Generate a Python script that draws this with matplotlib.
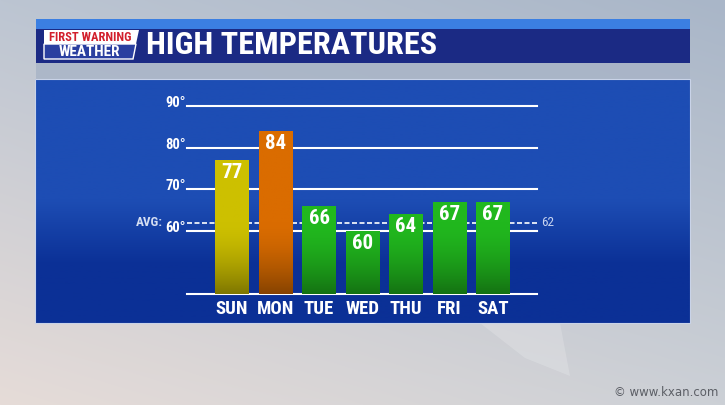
import numpy as np
import matplotlib
matplotlib.use("Agg")
import matplotlib.pyplot as plt
from matplotlib import font_manager
from matplotlib.colors import to_rgb
from matplotlib.patches import Rectangle, Polygon

# --- data
days = ["SUN", "MON", "TUE", "WED", "THU", "FRI", "SAT"]
highs = [77, 84, 66, 60, 64, 67, 67]
avg_high = 62
grid_temps = [90, 80, 70, 60]
base_temp = 45
bar_colors = ["#cdc000", "#da6c00", "#21b81e", "#21b81e", "#21b81e", "#21b81e", "#21b81e"]
title = "HIGH TEMPERATURES"

# --- pick a condensed bold font if one exists
names = {f.name for f in font_manager.fontManager.ttflist}
FONT = "DejaVu Sans"
for cand in ["Liberation Sans Narrow", "Roboto Condensed", "DejaVu Sans"]:
    if cand in names:
        FONT = cand
        break
plt.rcParams["font.family"] = [FONT, "DejaVu Sans"]

W, H = 725, 405
fig = plt.figure(figsize=(W / 100, H / 100), dpi=100)

# background axes in pixel coordinates
bg = fig.add_axes([0, 0, 1, 1])
bg.set_xlim(0, W)
bg.set_ylim(H, 0)
bg.axis("off")

# sky backdrop: bilinear blend of corner colours
tl, tr = np.array(to_rgb("#bcc5d2")), np.array(to_rgb("#a9b6c8"))
bl, br = np.array(to_rgb("#e6dcd8")), np.array(to_rgb("#ccd0d6"))
yy, xx = np.mgrid[0:1:H * 1j, 0:1:W * 1j]
sky = ((1 - yy)[..., None] * ((1 - xx)[..., None] * tl + xx[..., None] * tr)
       + yy[..., None] * ((1 - xx)[..., None] * bl + xx[..., None] * br))
bg.imshow(sky, extent=(0, W, H, 0), aspect="auto", zorder=0)
bg.add_patch(Polygon([(480, 323), (560, 323), (570, 376), (525, 358)],
                     closed=True, color="white", alpha=0.18, lw=0, zorder=1))

# header band
bg.add_patch(Rectangle((36, 19), 654, 10, color="#3b7fe2", lw=0, zorder=2))
bg.add_patch(Rectangle((36, 29), 654, 34, color="#1b2a84", lw=0, zorder=2))
bg.add_patch(Rectangle((36, 63), 654, 16, color="#a7b3c6", alpha=0.8, lw=0, zorder=2))

# main panel with vertical gradient
top_c, bot_c = np.array(to_rgb("#1d4db4")), np.array(to_rgb("#0b3096"))
py = np.linspace(79, 323, 200)
t = np.clip((py - 200) / 65, 0, 1)[:, None]
panel = (1 - t) * top_c + t * bot_c
bg.imshow(panel[:, None, :], extent=(35, 690, 323, 79), aspect="auto", zorder=2)
bg.add_patch(Rectangle((35, 79), 655, 244, fill=False, ec="#c9d3e8", lw=0.8, zorder=3))
bg.set_xlim(0, W)
bg.set_ylim(H, 0)

# logo
bg.add_patch(Polygon([(44, 30), (139, 30), (136, 44), (44, 44)], closed=True,
                     color="white", lw=0, zorder=4))
bg.add_patch(Polygon([(44, 44), (136, 44), (133, 59), (44, 59)], closed=True,
                     fc="#2a3fa0", ec="white", lw=1.0, zorder=4))
bg.text(90, 37.5, "FIRST WARNING", color="#d21f2b", fontsize=9, fontweight="bold",
        ha="center", va="center", zorder=5)
bg.text(89, 51.5, "WEATHER", color="white", fontsize=11, fontweight="bold",
        ha="center", va="center", zorder=5)

bg.text(146, 45, title, color="white", fontsize=23.2, fontweight="bold",
        ha="left", va="center", zorder=5)
bg.text(718, 392, "\u00a9 www.kxan.com", color="#5c5f66", fontsize=8.5,
        family="DejaVu Sans", ha="right", va="center", zorder=5)

# chart axes placed over the panel
x0, x1 = 187, 537
y_top, y_base = 105.7, 294
ax = fig.add_axes([x0 / W, 1 - y_base / H, (x1 - x0) / W, (y_base - y_top) / H])
ax.axis("off")
xlim = (-1.034, 7.01)
ylim = (base_temp, 90)

for g in grid_temps + [base_temp]:
    ax.axhline(g, color="white", lw=1.5, zorder=1, clip_on=False)
for g in grid_temps:
    ax.text(-0.003, g + 0.7, f"{g}\u00b0", transform=ax.get_yaxis_transform(),
            color="white", fontsize=10.5, fontweight="bold", ha="right", va="center")
ax.axhline(avg_high, color="white", lw=1.2, ls=(0, (3, 1.5)), zorder=1, clip_on=False)
ax.text(-0.068, avg_high, "AVG:", transform=ax.get_yaxis_transform(),
        color="#d5def2", fontsize=9.5, fontweight="bold", ha="right", va="center")
ax.text(1.012, avg_high, f"{avg_high}", transform=ax.get_yaxis_transform(),
        color="#c8d4f0", fontsize=9.5, ha="left", va="center")

x = np.arange(len(days))
bars = ax.bar(x, [h - base_temp for h in highs], bottom=base_temp, width=0.78,
              color=bar_colors, lw=0, zorder=2)

# darker toward the bottom of the chart
for b, c in zip(bars, bar_colors):
    l, bot = b.get_x(), b.get_y()
    r, tp = l + b.get_width(), bot + b.get_height()
    ys = np.linspace(tp, bot, 120)
    s = np.clip((62 - ys) / (62 - base_temp), 0, 1)
    f = 1 - 0.38 * s ** 1.6
    grad = np.array(to_rgb(c))[None, :] * f[:, None]
    im = ax.imshow(grad[:, None, :], extent=(l, r, bot, tp), aspect="auto", zorder=3)
    im.set_clip_path(b)

for i, (d, h) in enumerate(zip(days, highs)):
    ax.annotate(str(h), (i, h), xytext=(0, -2), textcoords="offset points",
                color="white", fontsize=15, fontweight="bold",
                ha="center", va="top", zorder=4)
    ax.annotate(d, (i, base_temp), xytext=(0, -11), textcoords="offset points",
                color="white", fontsize=13.5, fontweight="bold",
                ha="center", va="center", annotation_clip=False)

ax.set_xlim(*xlim)
ax.set_ylim(*ylim)

fig.savefig("out.png", dpi=100)
